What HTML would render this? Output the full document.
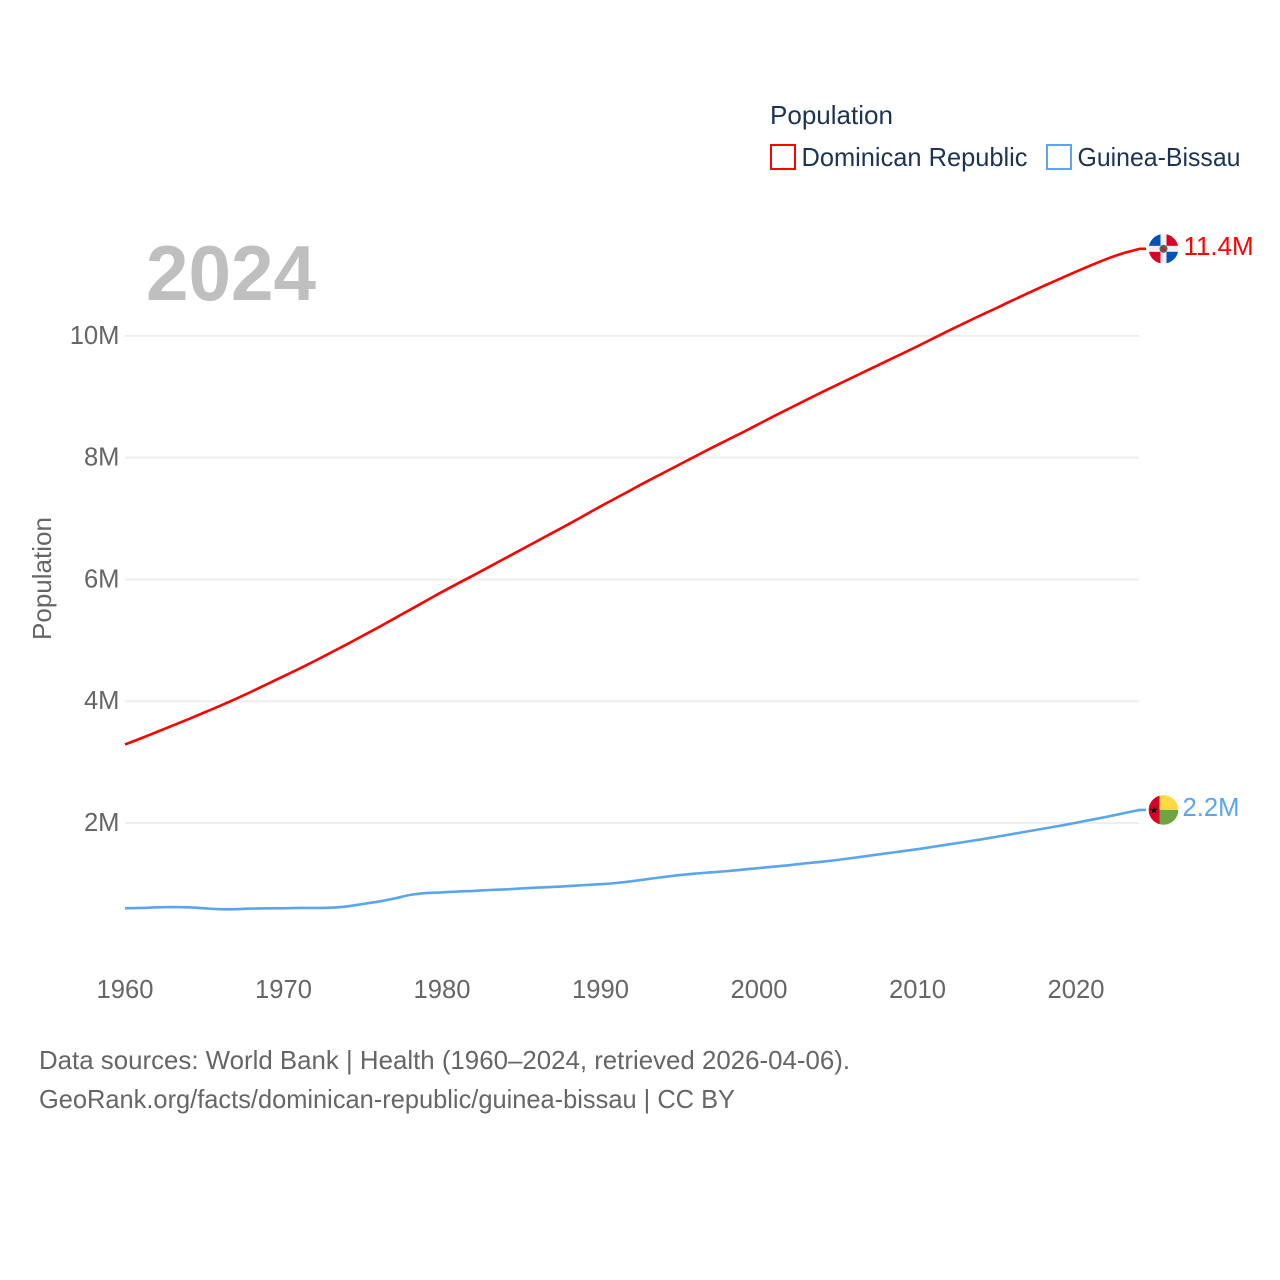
<!DOCTYPE html>
<html lang="en">
<head>
<meta charset="utf-8">
<title>Population: Dominican Republic and Guinea-Bissau</title>
<style>
html,body{margin:0;padding:0;background:#fff;width:1280px;height:1280px;overflow:hidden}
svg{display:block;font-family:"Liberation Sans",sans-serif}
</style>
</head>
<body>
<svg id="chart" xmlns="http://www.w3.org/2000/svg" width="1280" height="1280" viewBox="0 0 1280 1280">
  <rect x="0" y="0" width="1280" height="1280" fill="#ffffff"/>
  <g id="grid"></g>
  <g id="yticks"></g>
  <g id="xticks"></g>
  <text x="146" y="300" font-size="78" font-weight="700" fill="#bfbfbf" textLength="170" lengthAdjust="spacingAndGlyphs">2024</text>
  <text transform="translate(51,640) rotate(-90)" font-size="26" fill="#666666" textLength="123" lengthAdjust="spacingAndGlyphs">Population</text>

  <g>
    <text x="770" y="124" font-size="26" fill="#1c3454" textLength="123" lengthAdjust="spacingAndGlyphs">Population</text>
    <g>
      <rect x="771" y="145" width="24" height="24" fill="#ffffff" stroke="#ff0000" stroke-width="2"/>
      <text x="801.5" y="166" font-size="26" fill="#1c3454" textLength="226" lengthAdjust="spacingAndGlyphs">Dominican Republic</text>
    </g>
    <g>
      <rect x="1047" y="145" width="24" height="24" fill="#ffffff" stroke="#5ba5ee" stroke-width="2"/>
      <text x="1077.5" y="166" font-size="26" fill="#1c3454" textLength="163" lengthAdjust="spacingAndGlyphs">Guinea-Bissau</text>
    </g>
  </g>

  <g id="series"></g>

  <defs>
    <clipPath id="flag-clip" clipPathUnits="userSpaceOnUse"><circle cx="0" cy="0" r="14.8"/></clipPath>
  </defs>
  <g id="flag-dr">
    <g clip-path="url(#flag-clip)">
      <rect x="-15" y="-15" width="30" height="30" fill="#f0f0f0"/>
      <rect x="-15" y="-15" width="12" height="12" fill="#0052b4"/>
      <rect x="3" y="3" width="12" height="12" fill="#0052b4"/>
      <rect x="3" y="-15" width="12" height="12" fill="#d80027"/>
      <rect x="-15" y="3" width="12" height="12" fill="#d80027"/>
      <circle cx="0" cy="0" r="4" fill="#3f6f5a"/>
      <circle cx="0" cy="0" r="2.2" fill="#c8203a"/>
    </g>
  </g>
  <g id="flag-gb">
    <g clip-path="url(#flag-clip)">
      <rect x="-15" y="-15" width="15" height="30" fill="#ffda44"/>
      <rect x="-4" y="-15" width="19" height="15" fill="#ffda44"/>
      <rect x="-4" y="0" width="19" height="15" fill="#6da544"/>
      <rect x="-15" y="-15" width="11" height="30" fill="#d80027"/>
      <polygon points="-9.5,-4 -8.4,-1.2 -5.5,-1.2 -7.8,0.6 -7,3.5 -9.5,1.8 -12,3.5 -11.2,0.6 -13.5,-1.2 -10.6,-1.2" fill="#111111"/>
    </g>
  </g>

  <g id="end-labels"></g>

  <g>
    <text x="39" y="1069" font-size="26" fill="#666666" textLength="811" lengthAdjust="spacingAndGlyphs">Data sources: World Bank | Health (1960–2024, retrieved 2026-04-06).</text>
    <text x="39" y="1108" font-size="26" fill="#666666" textLength="696" lengthAdjust="spacingAndGlyphs">GeoRank.org/facts/dominican-republic/guinea-bissau | CC BY</text>
  </g>
</svg>
<script>
const years = [1960,1961,1962,1963,1964,1965,1966,1967,1968,1969,1970,1971,1972,1973,1974,1975,1976,1977,1978,1979,1980,1981,1982,1983,1984,1985,1986,1987,1988,1989,1990,1991,1992,1993,1994,1995,1996,1997,1998,1999,2000,2001,2002,2003,2004,2005,2006,2007,2008,2009,2010,2011,2012,2013,2014,2015,2016,2017,2018,2019,2020,2021,2022,2023,2024];
const dominicanRepublic = [3.29,3.39,3.495,3.60,3.705,3.815,3.925,4.04,4.16,4.285,4.41,4.535,4.665,4.80,4.935,5.075,5.215,5.36,5.505,5.65,5.795,5.935,6.07,6.21,6.35,6.49,6.63,6.77,6.91,7.055,7.20,7.34,7.48,7.62,7.755,7.89,8.025,8.16,8.29,8.42,8.555,8.69,8.82,8.95,9.08,9.205,9.33,9.455,9.58,9.705,9.83,9.96,10.09,10.215,10.34,10.46,10.585,10.705,10.825,10.94,11.055,11.165,11.27,11.36,11.43];
const guineaBissau = [0.60,0.605,0.615,0.62,0.615,0.60,0.585,0.585,0.595,0.60,0.60,0.605,0.605,0.61,0.63,0.67,0.71,0.76,0.82,0.85,0.86,0.875,0.885,0.90,0.91,0.925,0.94,0.95,0.965,0.98,0.995,1.015,1.045,1.08,1.115,1.145,1.17,1.19,1.21,1.235,1.26,1.285,1.31,1.34,1.365,1.395,1.43,1.465,1.50,1.535,1.57,1.61,1.65,1.69,1.73,1.775,1.82,1.865,1.91,1.955,2.005,2.055,2.105,2.16,2.215];
const yTickValues = [2,4,6,8,10];
const xTickValues = [1960,1970,1980,1990,2000,2010,2020];

const NS = 'http://www.w3.org/2000/svg';
function xScale(year){ return 125 + (year - 1960) * 15.85; }
function yScale(millions){ return 944.8 - millions * 60.89; }
function make(tag, parent){
  const el = document.createElementNS(NS, tag);
  document.getElementById(parent).appendChild(el);
  return el;
}

yTickValues.forEach(function(v){
  const line = make('line', 'grid');
  
  
  line.setAttribute('x1', 125);
  line.setAttribute('x2', 1139);
  line.setAttribute('y1', yScale(v));
  line.setAttribute('y2', yScale(v));
  line.setAttribute('stroke', '#eeeeee');
  line.setAttribute('stroke-width', 2);

  const label = make('text', 'yticks');
  
  
  label.setAttribute('x', 119.5);
  label.setAttribute('y', yScale(v) + 8);
  label.setAttribute('text-anchor', 'end');
  label.setAttribute('font-size', 25.6);
  label.setAttribute('fill', '#666666');
  label.textContent = v + 'M';
});

xTickValues.forEach(function(year){
  const label = make('text', 'xticks');
  
  
  label.setAttribute('x', xScale(year));
  label.setAttribute('y', 998);
  label.setAttribute('text-anchor', 'middle');
  label.setAttribute('font-size', 25.6);
  label.setAttribute('fill', '#666666');
  label.textContent = year;
});

function pathFor(values){
  const xs = years.map(xScale);
  const ys = values.map(yScale);
  const n = ys.length;
  let d = 'M' + xs[0].toFixed(2) + ',' + ys[0].toFixed(2);
  for (let i = 0; i < n - 1; i++) {
    const y0 = i > 0 ? ys[i - 1] : 2 * ys[0] - ys[1];
    const y3 = i + 2 < n ? ys[i + 2] : 2 * ys[n - 1] - ys[n - 2];
    const c1y = ys[i] + (ys[i + 1] - y0) / 6;
    const c2y = ys[i + 1] - (y3 - ys[i]) / 6;
    const c1x = xs[i] + (xs[i + 1] - xs[i]) / 3;
    const c2x = xs[i + 1] - (xs[i + 1] - xs[i]) / 3;
    d += 'C' + c1x.toFixed(2) + ',' + c1y.toFixed(2) + ' ' + c2x.toFixed(2) + ',' + c2y.toFixed(2) + ' ' + xs[i + 1].toFixed(2) + ',' + ys[i + 1].toFixed(2);
  }
  d += 'L1146,' + ys[n - 1].toFixed(2);
  return d;
}

const lineDr = make('path', 'series');


lineDr.setAttribute('d', pathFor(dominicanRepublic));
lineDr.setAttribute('fill', 'none');
lineDr.setAttribute('stroke', '#ff0000');
lineDr.setAttribute('stroke-width', 2.6);
lineDr.setAttribute('stroke-linejoin', 'round');

const lineGb = make('path', 'series');


lineGb.setAttribute('d', pathFor(guineaBissau));
lineGb.setAttribute('fill', 'none');
lineGb.setAttribute('stroke', '#5ba5ee');
lineGb.setAttribute('stroke-width', 2.6);
lineGb.setAttribute('stroke-linejoin', 'round');

const endDr = dominicanRepublic[dominicanRepublic.length - 1];
const endGb = guineaBissau[guineaBissau.length - 1];
document.getElementById('flag-dr').setAttribute('transform', 'translate(1163.5,' + yScale(endDr) + ')');
document.getElementById('flag-gb').setAttribute('transform', 'translate(1163.5,' + yScale(endGb) + ')');

const labelDr = make('text', 'end-labels');


labelDr.setAttribute('x', 1183.5);
labelDr.setAttribute('y', yScale(endDr) + 6);
labelDr.setAttribute('font-size', 25.6);
labelDr.setAttribute('fill', '#ff0000');
labelDr.setAttribute('textLength', 70);
labelDr.setAttribute('lengthAdjust', 'spacingAndGlyphs');
labelDr.textContent = endDr.toFixed(1) + 'M';

const labelGb = make('text', 'end-labels');


labelGb.setAttribute('x', 1182.5);
labelGb.setAttribute('y', yScale(endGb) + 6);
labelGb.setAttribute('font-size', 25.6);
labelGb.setAttribute('fill', '#5ba5ee');
labelGb.setAttribute('textLength', 57);
labelGb.setAttribute('lengthAdjust', 'spacingAndGlyphs');
labelGb.textContent = endGb.toFixed(1) + 'M';
</script>
</body>
</html>
